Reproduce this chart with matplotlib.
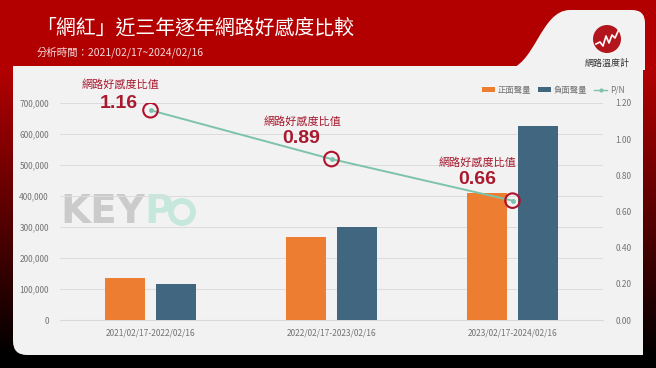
import numpy as np
import matplotlib
matplotlib.use("Agg")
import matplotlib.pyplot as plt
from matplotlib.patches import FancyBboxPatch, Circle, PathPatch, Rectangle
from matplotlib.path import Path
from matplotlib.lines import Line2D

plt.rcParams['font.family'] = ['Noto Sans CJK TC', 'DejaVu Sans']

# ---------------- data ----------------
categories = ["2021/02/17-2022/02/16", "2022/02/17-2023/02/16", "2023/02/17-2024/02/16"]
positive = [135000, 268000, 410000]
negative = [116000, 300000, 626000]
pn_ratio = [1.16, 0.89, 0.66]
pn_labels = ["1.16", "0.89", "0.66"]
left_ticks = [0, 100000, 200000, 300000, 400000, 500000, 600000, 700000]
right_ticks = [0.0, 0.2, 0.4, 0.6, 0.8, 1.0, 1.2]
series_names = ["正面聲量", "負面聲量", "P/N"]
title = "「網紅」近三年逐年網路好感度比較"
subtitle = "分析時間：2021/02/17~2024/02/16"
ann_title = "網路好感度比值"

# ---------------- layout / style ----------------
W, H = 656, 368
ORANGE = "#ED7D31"
BLUE = "#41667F"
TEAL = "#7DC3AB"
DARKRED = "#A8192E"
TICKC = "#737373"
label_offsets = [(-30, 26), (-29, 38), (-35, 38)]   # px (label)
value_offsets = [(-32, 7), (-30, 21), (-35, 21)]    # px (value)

fig = plt.figure(figsize=(W / 100, H / 100), dpi=100)

# background axes in pixel coordinates
bg = fig.add_axes([0, 0, 1, 1])
bg.set_xlim(0, W)
bg.set_ylim(H, 0)
bg.axis("off")

yy = np.arange(H)
f = np.clip((355 - yy) / (355 - 70), 0, 1)
rgb = np.zeros((H, 1, 3))
rgb[:, 0, 0] = 0.70 * f
bg.imshow(rgb, extent=[0, W, H, 0], aspect="auto", zorder=0)

# panel
panel = FancyBboxPatch((13, 66), 630, 289, boxstyle="round,pad=0,rounding_size=14",
                       fc="#F2F2F2", ec="none", zorder=1)
bg.add_patch(panel)
bg.add_patch(Rectangle((13, 66), 630, 40, fc="#F2F2F2", ec="none", zorder=1))
bg.add_patch(Rectangle((500, 300), 143, 55, fc="#F2F2F2", ec="none", zorder=1))

# white tab top-right
verts = [(505, 70), (535, 68), (540, 10), (570, 10),
         (632, 10), (645, 10), (645, 23), (645, 70), (505, 70)]
codes = [Path.MOVETO, Path.CURVE4, Path.CURVE4, Path.CURVE4,
         Path.LINETO, Path.CURVE3, Path.CURVE3, Path.LINETO, Path.CLOSEPOLY]
bg.add_patch(PathPatch(Path(verts, codes), fc="#F2F2F2", ec="none", zorder=1))

# logo
bg.add_patch(Circle((607, 39), 14, fc="#B3151C", ec="none", zorder=2))
zx = [596, 600, 603, 606, 609, 612, 615, 619]
zy = [44, 42, 46, 36, 43, 35, 38, 29]
bg.plot(zx, zy, color="white", lw=1.2, zorder=3)
bg.text(607, 63, "網路溫度計", fontsize=6.5, color="#333333", ha="center", va="center", zorder=3)

# titles
bg.text(36, 28, title, fontsize=14.3, color="white", ha="left", va="center", zorder=3)
bg.text(37, 52, subtitle, fontsize=7.5, color="#F3DADA", ha="left", va="center", zorder=3)

# watermark
bg.text(60, 212, "KEY", fontsize=28, fontweight="bold", color="#CBCBCB", ha="left",
        va="center", family="DejaVu Sans", zorder=2)
bg.text(144, 212, "P", fontsize=28, fontweight="bold", color="#C6E8DC", ha="left",
        va="center", family="DejaVu Sans", zorder=2)
bg.add_patch(Circle((182, 212), 11, fc="none", ec="#C6E8DC", lw=4.2, zorder=2))

# ---------------- chart ----------------
rect = [60 / W, 48 / H, 543 / W, 217 / H]
ax = fig.add_axes(rect)
ax.patch.set_alpha(0)
x = np.arange(len(categories))
bw = 0.22
off = 0.143
ax.bar(x - off, positive, bw, color=ORANGE, zorder=3)
ax.bar(x + off, negative, bw, color=BLUE, zorder=3)
ax.set_xlim(-0.5, 2.5)
ax.set_ylim(0, 700000)
ax.set_yticks(left_ticks)
ax.set_yticklabels([f"{v:,}" for v in left_ticks])
ax.set_xticks(x)
ax.set_xticklabels(categories)
ax.grid(axis="y", color="#DCDCDC", lw=0.7, zorder=0)
for s in ["top", "right", "left"]:
    ax.spines[s].set_visible(False)
ax.spines["bottom"].set_color("#D9D9D9")
ax.tick_params(axis="both", length=0, labelsize=6, colors=TICKC)
ax.tick_params(axis="y", pad=8)
ax.tick_params(axis="x", pad=6)

ax2 = ax.twinx()
ax2.set_ylim(0, 1.2)
ax2.plot(x, pn_ratio, color=TEAL, lw=1.4, marker="o", ms=2.5, zorder=4)
ax2.scatter(x, pn_ratio, s=110, facecolors="none", edgecolors="#B0122B", linewidths=1.5, zorder=5)
ax2.set_yticks(right_ticks)
ax2.set_yticklabels([f"{v:.2f}" for v in right_ticks])
for s in ax2.spines.values():
    s.set_visible(False)
ax2.tick_params(axis="y", length=0, labelsize=6, colors=TICKC, pad=9)

for i in range(len(pn_ratio)):
    lo = label_offsets[i]
    vo = value_offsets[i]
    ax2.annotate(ann_title, (x[i], pn_ratio[i]), xytext=(lo[0] * 0.72, lo[1] * 0.72),
                 textcoords="offset points", ha="center", va="center",
                 fontsize=8, color=DARKRED, zorder=6)
    ax2.annotate(pn_labels[i], (x[i], pn_ratio[i]), xytext=(vo[0] * 0.72, vo[1] * 0.72),
                 textcoords="offset points", ha="center", va="center",
                 fontsize=14, fontweight="bold", color=DARKRED, family="Liberation Sans", zorder=6)

handles = [Rectangle((0, 0), 1, 1, fc=ORANGE), Rectangle((0, 0), 1, 1, fc=BLUE),
           Line2D([], [], color=TEAL, marker="o", ms=2, lw=1)]
fig.legend(handles, series_names, loc="center right", bbox_to_anchor=(632 / W, 1 - 90 / H),
           ncol=3, frameon=False, fontsize=6, labelcolor=TICKC,
           handlelength=1.6, handleheight=0.5, handletextpad=0.3, columnspacing=0.8)

fig.savefig("out.png", dpi=100)
